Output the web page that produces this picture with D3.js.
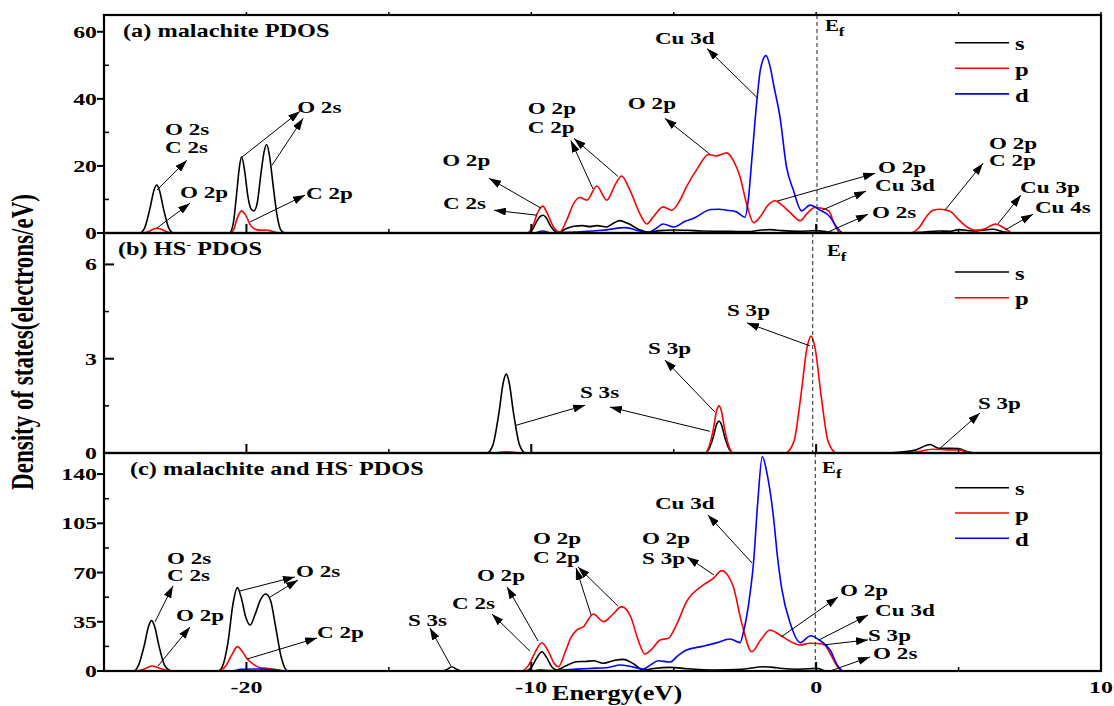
<!DOCTYPE html>
<html>
<head>
<meta charset="utf-8">
<script src="https://cdn.jsdelivr.net/npm/d3@7/dist/d3.min.js"></script>
<style>
  body { margin: 0; background: white; }
</style>
</head>
<body>
<div id="container"></div>
<script>
let w = 1114;
let h = 706;

// energy axis (eV)
let energyDomain = [-25, 10];
let energyMajor = [-20, -10, 0, 10];
let energyMinor = [-15, -5, 5];
let energyLabels = ["-20", "-10", "0", "10"];

// ---- (a) malachite PDOS : [energy, dos]
let aS = [[-25,0],[-23.75,0],[-23.58,1.4],[-23.39,7.2],[-23.24,12.9],[-23.15,14.3],[-23.06,12.9],[-22.91,7.2],[-22.72,1.4],[-22.55,0],
  [-20.6,0],[-20.47,2.5],[-20.34,12],[-20.25,19.5],[-20.17,22.7],[-20.07,19],[-19.95,11],[-19.84,7.2],[-19.74,6.6],[-19.62,9],[-19.5,17],[-19.38,24.2],[-19.29,26.4],[-19.19,23],[-19.06,14],[-18.92,5],[-18.8,1],[-18.65,0],
  [-10.1,0],[-9.95,1.2],[-9.8,3.6],[-9.68,5.0],[-9.58,5.3],[-9.48,4.6],[-9.33,2.2],[-9.18,0.6],[-9.02,0.2],[-8.8,1.2],[-8.5,2.0],[-8.2,2.2],[-7.95,1.9],[-7.7,2.2],[-7.35,1.8],[-7.1,3.0],[-6.9,3.7],[-6.6,2.8],[-6.2,1.0],[-5.9,0.3],[-5.5,0.7],[-5.0,0.9],[-4.5,0.8],[-4,0.6],[-3,0.5],[-2.4,0.4],[-1.9,0.9],[-1.6,1.0],[-1.2,0.7],[-0.6,0.5],[0,0.7],[0.4,0.3],[0.8,0],
  [3.2,0],[3.8,0.3],[4.3,0.6],[4.7,0.5],[5.0,1.0],[5.5,0.6],[6.2,1.1],[6.6,0.3],[6.9,0],[8.6,0]];
let aP = [[-25,0],[-23.7,0],[-23.45,0.4],[-23.28,1.1],[-23.15,1.4],[-23.0,1.1],[-22.8,0.4],[-22.55,0],
  [-20.6,0],[-20.45,1.0],[-20.32,4.5],[-20.17,6.6],[-20.02,5.2],[-19.85,2.2],[-19.65,1.0],[-19.45,0.8],[-19.3,0.9],[-19.1,0.5],[-18.8,0],
  [-10.15,0],[-9.95,2.0],[-9.78,6],[-9.6,8.0],[-9.42,5.5],[-9.2,1.5],[-9.0,0.3],[-8.75,4],[-8.5,9],[-8.3,10.6],[-8.05,9.8],[-7.7,14.0],[-7.35,9.8],[-7.05,14.5],[-6.83,17.0],[-6.55,13],[-6.2,6],[-5.95,2.7],[-5.7,5],[-5.37,7.8],[-5.07,6.8],[-4.8,9.5],[-4.55,13.8],[-4.15,19.5],[-3.78,23.4],[-3.49,23.0],[-3.14,23.9],[-2.9,21.5],[-2.67,16.7],[-2.45,9],[-2.2,3.1],[-1.95,5],[-1.7,8.2],[-1.44,9.6],[-1.2,8.3],[-0.9,6],[-0.56,3.7],[-0.3,6.0],[-0.05,7.6],[0.2,7.4],[0.45,6.5],[0.65,2.5],[0.85,0],
  [3.3,0],[3.6,1.5],[3.9,5.2],[4.1,6.8],[4.35,7.1],[4.7,6.5],[5.0,4],[5.3,1.8],[5.6,0.8],[5.9,1.2],[6.3,2.7],[6.6,1.5],[6.9,0],[8.6,0]];
let aD = [[-25,0],[-9.9,0],[-9.6,0.6],[-9.3,0],[-8.5,0.3],[-7.5,0.8],[-6.7,1.6],[-6.2,0.6],[-5.9,0.2],[-5.6,1.5],[-5.37,2.7],[-5.0,1.8],[-4.6,3.5],[-4.3,4.4],[-3.7,7.0],[-3.4,7.1],[-3.14,6.8],[-2.8,6.3],[-2.5,4.7],[-2.38,10],[-2.26,21.7],[-2.08,39.5],[-1.95,49],[-1.76,52.9],[-1.6,49],[-1.5,44.5],[-1.27,34.6],[-1.04,19.7],[-0.8,12.8],[-0.51,6.6],[-0.22,8.3],[0.14,6.8],[0.49,4.8],[0.7,2],[0.95,0],[8.6,0]];

// ---- (b) HS- PDOS
let bS = [[-12.9,0],[-11.55,0],[-11.35,0.25],[-11.14,1.25],[-10.98,2.26],[-10.88,2.51],[-10.78,2.26],[-10.62,1.25],[-10.41,0.25],[-10.2,0],
  [-3.9,0],[-3.78,0.1],[-3.61,0.51],[-3.49,0.92],[-3.41,1.02],[-3.33,0.92],[-3.21,0.51],[-3.04,0.1],[-2.9,0],
  [2.3,0],[3.0,0.03],[3.5,0.1],[4.0,0.27],[4.3,0.15],[4.7,0.15],[5.0,0.14],[5.3,0.05],[5.6,0],[7.15,0]];
let bP = [[-12.9,0],[-11.3,0],[-10.88,0.04],[-10.4,0],
  [-3.9,0],[-3.78,0.15],[-3.61,0.75],[-3.49,1.35],[-3.41,1.5],[-3.33,1.35],[-3.21,0.75],[-3.04,0.15],[-2.9,0],
  [-1.08,0],[-0.78,0.37],[-0.53,1.86],[-0.32,3.35],[-0.18,3.72],[-0.04,3.35],[0.17,1.86],[0.42,0.37],[0.72,0],
  [3.0,0],[3.5,0.03],[4.1,0.12],[4.6,0.1],[5.0,0.1],[5.3,0.03],[5.6,0],[7.15,0]];

// ---- (c) malachite and HS- PDOS
let cS = [[-25,0],[-23.95,0],[-23.8,3.6],[-23.59,17.9],[-23.43,32.2],[-23.33,35.8],[-23.23,32.2],[-23.07,17.9],[-22.86,3.6],[-22.6,0],
  [-21.0,0],[-20.85,3],[-20.65,20],[-20.47,48],[-20.32,59.3],[-20.18,52],[-20.02,38],[-19.87,32.7],[-19.7,40],[-19.5,51],[-19.32,54.8],[-19.15,50],[-18.98,32],[-18.78,10],[-18.55,0],
  [-13.15,0],[-12.95,1.2],[-12.79,3.0],[-12.62,1.2],[-12.44,0],
  [-10.2,0],[-10.0,2.5],[-9.8,9.5],[-9.63,13.7],[-9.46,9.5],[-9.28,3],[-9.11,0.7],[-8.8,3.5],[-8.4,6.6],[-8.1,6.8],[-7.82,7.3],[-7.47,5.5],[-7.1,7.5],[-6.77,8.3],[-6.4,5],[-6.07,0.7],[-5.7,1.8],[-5.13,2.6],[-4.5,1.6],[-3.6,0.7],[-2.6,1.2],[-1.85,3.0],[-1.5,2.6],[-1.27,2.0],[-0.6,1.2],[0.02,1.9],[0.38,0],[2.6,0]];
let cP = [[-25,0],[-23.9,0],[-23.6,1.2],[-23.33,3.6],[-23.05,2.0],[-22.75,0.4],[-22.5,0],
  [-21.0,0],[-20.75,3],[-20.5,12],[-20.32,17.3],[-20.15,14],[-19.99,9.0],[-19.7,4.0],[-19.5,2.2],[-19.3,1.9],[-19.0,1.0],[-18.6,0],
  [-10.35,0],[-10.1,4],[-9.85,14],[-9.63,20.1],[-9.4,14],[-9.2,5.5],[-9.05,3],[-8.8,14],[-8.6,24],[-8.4,29.2],[-8.17,31.5],[-7.82,40.5],[-7.47,35.1],[-7.15,40],[-6.83,45.8],[-6.5,38],[-6.25,22],[-6.01,12.1],[-5.75,16],[-5.48,22.1],[-5.19,23.2],[-4.9,33],[-4.55,49.3],[-3.96,61.2],[-3.6,66],[-3.32,71.4],[-3.1,68],[-2.91,60],[-2.61,33.9],[-2.26,13.7],[-1.95,22],[-1.62,29.2],[-1.3,26],[-0.9,21],[-0.57,18.5],[-0.22,19.7],[0.25,19.2],[0.55,10.2],[0.75,3],[0.96,0],[2.6,0]];
let cD = [[-25,0],[-20.5,0],[-20.2,1.2],[-19.6,1.4],[-19.0,1.0],[-18.7,0],[-10.0,0],[-9.7,0.8],[-9.3,0.3],[-8.8,0.8],[-8.0,1.8],[-7.3,2.5],[-6.88,4.3],[-6.5,3.2],[-6.07,1.4],[-5.8,4.5],[-5.55,7.3],[-5.13,6.4],[-4.85,11],[-4.55,14.9],[-4.0,17.5],[-3.5,20],[-3.02,22.8],[-2.67,20.2],[-2.55,28],[-2.44,38.6],[-2.32,55],[-2.2,76.6],[-2.05,120],[-1.89,152.4],[-1.72,140],[-1.5,109.8],[-1.35,80],[-1.2,57.6],[-0.91,33.9],[-0.56,20.2],[-0.19,25.1],[0.14,21.6],[0.49,14.9],[0.75,4],[0.96,0],[2.6,0]];

// y ticks per panel
let aTicks = [0, 20, 40, 60];
let aMinor = [10, 30, 50];
let bTicks = [0, 3, 6];
let bMinor = [1.5, 4.5];
let cTicks = [0, 35, 70, 105, 140];
let cMinor = [17.5, 52.5, 87.5, 122.5];

// annotations: [label, energy, dos]  and arrows: [e1, dos1, e2, dos2]
let aNotes = [["O 2s",-22.86,30.9],["C 2s",-22.86,25.6],["O 2p",-22.33,12.2],["O 2s",-18.22,37.4],["C 2p",-17.91,11.9],
  ["O 2p",-13.13,21.7],["C 2s",-13.10,8.9],["O 2p",-10.12,37.1],["C 2p",-10.12,31.5],["O 2p",-6.61,38.6],["Cu 3d",-5.66,58.2],
  ["O 2p",2.17,19.6],["Cu 3d",2.07,14.3],["O 2s",1.96,6.2],["O 2p",6.07,26.7],["C 2p",6.07,21.7],["Cu 3p",7.16,13.7],["Cu 4s",7.68,7.7]];
let aArrows = [[-23.14,12.8,-22.09,21.7],[-23.14,1.5,-21.98,8.9],[-20.16,22.6,-18.12,36.3],[-19.10,20.2,-18.01,34.2],[-19.87,3.3,-17.94,11.3],
  [-9.66,7.4,-11.48,16.3],[-9.80,5.3,-11.31,6.8],[-7.83,13.1,-8.61,27.6],[-6.96,16.9,-8.50,28.2],[-3.73,23.5,-5.31,34.2],[-2.04,40.1,-3.83,55.0],
  [-1.37,9.5,2.07,17.8],[0.21,6.8,1.75,12.5],[0.42,0.3,1.82,5.6],[4.52,6.8,5.86,20.8],[6.38,2.7,7.19,11.3],[6.63,0.9,7.61,5.6]];

let bNotes = [["S 3s",-8.29,1.94],["S 3p",-5.90,3.34],["S 3p",-3.13,4.55],["S 3p",5.68,1.59]];
let bArrows = [[-10.54,0.88,-8.11,1.52],[-3.73,0.69,-7.24,1.46],[-3.55,1.30,-5.31,2.96],[-0.22,3.41,-2.43,4.14],[4.35,0.15,5.75,1.27]];

let cNotes = [["O 2s",-22.79,80.4],["C 2s",-22.79,68.3],["O 2p",-22.47,39.8],["O 2s",-18.26,71.1],["C 2p",-17.52,27.7],
  ["S 3s",-14.33,36.3],["C 2s",-12.78,48.4],["O 2p",-11.91,68.3],["O 2p",-9.94,94.6],["C 2p",-9.94,81.1],["O 2p",-6.11,94.6],["S 3p",-6.11,80.4],
  ["Cu 3d",-5.66,119.5],["O 2p",0.84,57.6],["Cu 3d",2.07,43.4],["S 3p",1.82,25.6],["O 2s",2.00,12.8]];
let cArrows = [[-23.21,34.9,-22.58,60.5],[-23.10,3.6,-21.98,31.3],[-20.23,56.9,-18.30,66.9],[-19.17,52.6,-18.19,64.7],[-19.98,8.5,-17.52,23.5],
  [-12.82,3.6,-13.56,30.6],[-10.05,14.2,-11.38,40.5],[-9.76,21.3,-10.85,59.8],[-7.90,39.8,-8.43,73.3],[-6.96,46.2,-8.36,74.0],[-3.59,68.3,-4.53,81.1],
  [-2.25,76.8,-3.80,111.0],[-1.23,24.2,0.77,52.6],[0.10,22.1,1.82,39.8],[0.24,18.5,1.82,22.1],[0.49,0,1.89,10.0]];

let colors = {s: "#000000", p: "#ff0000", d: "#0000ff"};
let SX = 1.38;  // the original figure is stretched sideways
let FONT = "'Liberation Serif', 'Times New Roman', serif";

let viz = d3.select("#container")
  .append("svg")
    .attr("width", w)
    .attr("height", h)
    .style("background-color", "white")
;

viz.append("defs").append("marker")
    .attr("id", "head")
    .attr("viewBox", "0 0 12 8")
    .attr("refX", 12)
    .attr("refY", 4)
    .attr("markerWidth", 12)
    .attr("markerHeight", 8)
    .attr("markerUnits", "userSpaceOnUse")
    .attr("orient", "auto")
  .append("path")
    .attr("d", "M0,0 L12,4 L0,8 Z")
    .attr("fill", "black");

let xScale = d3.scaleLinear().domain(energyDomain).range([104, 1101]);

function addText(g, str, px, py, size, anchor, sx){
  return g.append("text")
    .attr("transform", "translate(" + px + "," + py + ") scale(" + (sx || SX) + ",1)")
    .attr("text-anchor", anchor || "start")
    .attr("dy", "0.35em")
    .style("font-family", FONT)
    .style("font-weight", "bold")
    .style("font-size", size + "px")
    .text(str);
}

let panels = [
  {title: ["(a) malachite PDOS"], top: 15, bottom: 233, dom: [0, 65], ticks: aTicks, minor: aMinor,
   series: [["s", aS], ["p", aP], ["d", aD]], fermi: 0.03, efPos: [0.31, 61.8],
   notes: aNotes, arrows: aArrows, legendY: 42.7, legendStep: 25.6, tickOut: true},
  {title: ["(b) HS", "-", " PDOS"], top: 233, bottom: 453, dom: [0, 7], ticks: bTicks, minor: bMinor,
   series: [["s", bS], ["p", bP]], fermi: -0.12, efPos: [0.38, 6.44],
   notes: bNotes, arrows: bArrows, legendY: 272, legendStep: 25.7, tickOut: false},
  {title: ["(c) malachite and HS", "-", " PDOS"], top: 453, bottom: 671, dom: [0, 155], ticks: cTicks, minor: cMinor,
   series: [["s", cS], ["p", cP], ["d", cD]], fermi: -0.03, efPos: [0.21, 145.1],
   notes: cNotes, arrows: cArrows, legendY: 487.7, legendStep: 25.3, tickOut: true}
];

panels.forEach(function(p, k){
  let yScale = d3.scaleLinear().domain(p.dom).range([p.bottom, p.top]);
  let g = viz.append("g").classed("panel", true);

  // curves
  let line = d3.line()
    .x(function(d){ return xScale(d[0]); })
    .y(function(d){ return yScale(d[1]); })
    .curve(d3.curveMonotoneX);

  p.series.forEach(function(s){
    g.append("path")
      .datum(s[1])
      .attr("d", line)
      .attr("fill", "none")
      .attr("stroke", colors[s[0]])
      .attr("stroke-width", 1.6);
  });

  // fermi level
  g.append("line")
    .attr("x1", xScale(p.fermi)).attr("x2", xScale(p.fermi))
    .attr("y1", p.top).attr("y2", p.bottom)
    .attr("stroke", "#222")
    .attr("stroke-width", 1)
    .attr("stroke-dasharray", "4,3");

  let ef = addText(g, "E", xScale(p.efPos[0]), yScale(p.efPos[1]), 16, "start", 1.3);
  ef.append("tspan").attr("dy", 5).style("font-size", "13px").text("f");

  // frame
  g.append("rect")
    .attr("x", xScale(energyDomain[0])).attr("y", p.top)
    .attr("width", xScale(energyDomain[1]) - xScale(energyDomain[0]))
    .attr("height", p.bottom - p.top)
    .attr("fill", "none")
    .attr("stroke", "black")
    .attr("stroke-width", 2.2);

  // x ticks (inward)
  g.selectAll(".xmaj").data(energyMajor).enter().append("line")
    .attr("x1", xScale).attr("x2", xScale)
    .attr("y1", p.bottom).attr("y2", p.bottom - 9)
    .attr("stroke", "black").attr("stroke-width", 2);
  g.selectAll(".xmin").data(energyMinor).enter().append("line")
    .attr("x1", xScale).attr("x2", xScale)
    .attr("y1", p.bottom).attr("y2", p.bottom - 4)
    .attr("stroke", "black").attr("stroke-width", 1.5);
  if (k == 0) {
    g.selectAll(".xtop").data(energyMajor.concat(energyMinor)).enter().append("line")
      .attr("x1", xScale).attr("x2", xScale)
      .attr("y1", p.top).attr("y2", p.top - 3)
      .attr("stroke", "black").attr("stroke-width", 1.5);
  }

  // y ticks
  let x0 = xScale(energyDomain[0]);
  g.selectAll(".ymaj").data(p.ticks).enter().append("line")
    .attr("x1", p.tickOut ? x0 - 7 : x0).attr("x2", p.tickOut ? x0 + 1 : x0 + 10)
    .attr("y1", yScale).attr("y2", yScale)
    .attr("stroke", "black").attr("stroke-width", 2);
  g.selectAll(".ymin").data(p.minor).enter().append("line")
    .attr("x1", x0).attr("x2", x0 + 5)
    .attr("y1", yScale).attr("y2", yScale)
    .attr("stroke", "black").attr("stroke-width", 1.5);
  p.ticks.forEach(function(t){
    addText(g, String(t), x0 - 7, yScale(t), 17, "end", 1.4);
  });

  // title
  let tt = addText(g, p.title[0], 123 + (k == 2 ? 7 : (k == 1 ? -5 : 0)), p.top + 16, 18, "start", 1.35);
  if (p.title.length > 1) {
    tt.append("tspan").attr("dy", -7).style("font-size", "11px").text(p.title[1]);
    tt.append("tspan").attr("dy", 7).text(p.title[2]);
  }

  // legend
  p.series.forEach(function(s, i){
    let ly = p.legendY + i * p.legendStep;
    g.append("line")
      .attr("x1", 955).attr("x2", 1009)
      .attr("y1", ly).attr("y2", ly)
      .attr("stroke", colors[s[0]]).attr("stroke-width", 1.6);
    addText(g, s[0], 1015, ly + 1, 19, "start", 1.3);
  });

  // annotations
  g.selectAll(".arrow").data(p.arrows).enter().append("line")
    .attr("x1", function(d){ return xScale(d[0]); })
    .attr("y1", function(d){ return yScale(d[1]); })
    .attr("x2", function(d){ return xScale(d[2]); })
    .attr("y2", function(d){ return yScale(d[3]); })
    .attr("stroke", "black")
    .attr("stroke-width", 1)
    .attr("marker-end", "url(#head)");
  p.notes.forEach(function(n){
    addText(g, n[0], xScale(n[1]), yScale(n[2]), 16.5, "start", 1.4);
  });
});

// x tick labels on the bottom panel
energyMajor.forEach(function(v, i){
  addText(viz, energyLabels[i], xScale(v), 687, 17.5, "middle", 1.37);
});

// axis titles
viz.append("text")
  .attr("transform", "translate(617,700) scale(1.32,1)")
  .attr("text-anchor", "middle")
  .style("font-family", FONT)
  .style("font-weight", "bold")
  .style("font-size", "20px")
  .text("Energy(eV)");

viz.append("text")
  .attr("transform", "translate(33,342) scale(1.35,1) rotate(-90)")
  .attr("text-anchor", "middle")
  .style("font-family", FONT)
  .style("font-weight", "bold")
  .style("font-size", "23px")
  .text("Density of states(electrons/eV)");
</script>
</body>
</html>
